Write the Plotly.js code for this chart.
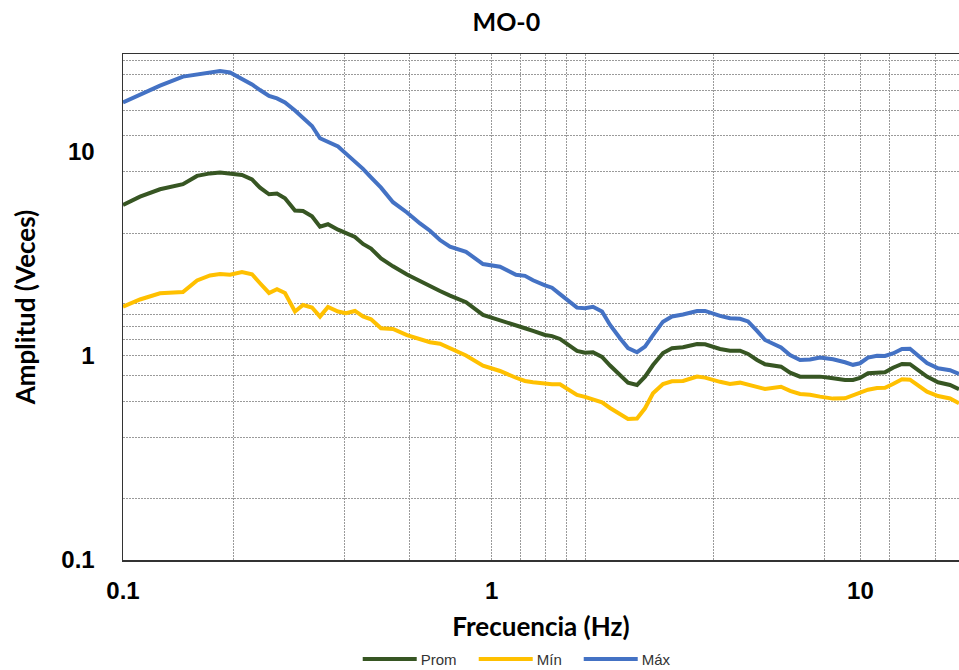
<!DOCTYPE html>
<html>
<head>
<meta charset="utf-8">
<script src="https://cdn.plot.ly/plotly-3.0.1.min.js"></script>
<style>
html,body{margin:0;padding:0;background:#fff;}
#chart{width:959px;height:670px;}
#chart .legend .legendlines path{d:path("M-18,0h54");}
#chart .legend, #chart .legend g, #chart .legend .scrollbox{clip-path:none !important;}
</style>
</head>
<body>
<div id="chart"></div>
<script>
// Frecuencia (Hz)
const freq = [0.1, 0.1112, 0.1260, 0.1454, 0.1588, 0.1722, 0.1833, 0.1951, 0.2102, 0.2238,
  0.2353, 0.2489, 0.2616, 0.2750, 0.2927, 0.3078, 0.3255, 0.3422, 0.3597, 0.3830,
  0.4025, 0.4257, 0.4476, 0.4706, 0.5009, 0.5399, 0.5891, 0.6391, 0.6801, 0.7239,
  0.7707, 0.8518, 0.9471, 1.0532, 1.1638, 1.2311, 1.2942, 1.3950, 1.4571, 1.5318,
  1.7034, 1.7906, 1.8823, 1.9914, 2.0941, 2.2284, 2.3425, 2.4780, 2.6050, 2.7384,
  2.9148, 3.0832, 3.3025, 3.6058, 3.7903, 4.1615, 4.4290, 4.7153, 4.9569, 5.2434,
  5.5124, 6.0911, 6.4437, 6.8597, 7.3004, 7.7696, 8.4272, 9.0827, 9.5480, 9.975,
  10.486, 11.092, 11.660, 12.257, 12.965, 13.628, 14.328, 15.155, 16.236, 17.500, 18.51];

const prom = [5.50, 6.04, 6.56, 6.95, 7.63, 7.85, 7.93, 7.86, 7.71, 7.33,
  6.68, 6.20, 6.25, 5.93, 5.16, 5.14, 4.84, 4.30, 4.42, 4.16,
  4.00, 3.83, 3.54, 3.36, 3.01, 2.75, 2.51, 2.32, 2.19, 2.08,
  1.975, 1.834, 1.589, 1.501, 1.406, 1.367, 1.326, 1.268, 1.251, 1.212,
  1.058, 1.038, 1.043, 0.989, 0.898, 0.807, 0.740, 0.721, 0.792, 0.903,
  1.034, 1.091, 1.103, 1.145, 1.141, 1.082, 1.062, 1.062, 1.023, 0.956,
  0.911, 0.886, 0.828, 0.792, 0.792, 0.792, 0.777, 0.763, 0.763, 0.780,
  0.823, 0.832, 0.832, 0.876, 0.914, 0.911, 0.854, 0.792, 0.743, 0.721, 0.687];

const minv = [1.744, 1.892, 2.029, 2.060, 2.345, 2.481, 2.523, 2.500, 2.581, 2.515,
  2.272, 2.036, 2.123, 2.036, 1.652, 1.778, 1.729, 1.559, 1.739, 1.652,
  1.621, 1.662, 1.561, 1.513, 1.367, 1.356, 1.266, 1.212, 1.167, 1.149,
  1.092, 1.006, 0.896, 0.844, 0.782, 0.754, 0.744, 0.731, 0.727, 0.727,
  0.644, 0.630, 0.615, 0.593, 0.556, 0.517, 0.491, 0.494, 0.554, 0.656,
  0.729, 0.751, 0.754, 0.792, 0.783, 0.747, 0.729, 0.740, 0.725, 0.705,
  0.689, 0.707, 0.674, 0.651, 0.646, 0.632, 0.618, 0.620, 0.639, 0.656,
  0.683, 0.697, 0.699, 0.729, 0.769, 0.765, 0.721, 0.668, 0.636, 0.619, 0.586];

const maxv = [17.48, 19.11, 21.14, 23.39, 23.99, 24.67, 24.95, 24.53, 22.93, 21.42,
  20.11, 18.81, 18.29, 17.48, 15.95, 14.68, 13.41, 11.67, 11.26, 10.64,
  9.81, 8.96, 8.26, 7.50, 6.68, 5.67, 5.05, 4.46, 4.11, 3.70,
  3.43, 3.24, 2.82, 2.74, 2.50, 2.47, 2.35, 2.22, 2.16, 2.01,
  1.725, 1.713, 1.743, 1.652, 1.419, 1.221, 1.094, 1.043, 1.111, 1.265,
  1.473, 1.562, 1.597, 1.662, 1.662, 1.571, 1.530, 1.522, 1.476, 1.326,
  1.198, 1.101, 1.011, 0.956, 0.961, 0.983, 0.963, 0.931, 0.905, 0.921,
  0.981, 1.003, 1.000, 1.029, 1.082, 1.086, 1.011, 0.924, 0.870, 0.852, 0.816];

const xTickVals = [0.1, 1, 10];
const xTickText = ['0.1', '1', '10'];
const yTickVals = [0.1, 1, 10];
const yTickText = ['0.1', '1', '10'];
const xGrid = [0.2, 0.4, 0.6, 0.8, 1, 1.2, 1.4, 1.6, 1.8, 4, 8, 10, 12, 16];
const yGrid = [0.2, 0.4, 0.6, 0.8, 1, 1.2, 1.4, 1.6, 1.8, 4, 8, 12, 16, 20, 24, 28];
const xRange = [0.1, 18.51];
const yRange = [0.1, 30.2];

const series = [
  {name: 'Prom', y: prom, color: '#375623', legendwidth: 71},
  {name: 'Mín', y: minv, color: '#FFC000', legendwidth: 60},
  {name: 'Máx', y: maxv, color: '#4472C4', legendwidth: 40}
];

const traces = series.map(s => ({
  x: freq, y: s.y, name: s.name, type: 'scatter', mode: 'lines',
  line: {color: s.color, width: 4, shape: 'linear'},
  legendwidth: s.legendwidth,
  hoverinfo: 'x+y+name'
}));

const gridStyle = {showgrid: true, gridcolor: '#9a9a9a', gridwidth: 1, griddash: '2px,1px', ticks: ''};
const titleFont = {family: 'Lato, Open Sans, sans-serif', size: 26, color: '#000', weight: 'bold'};
const tickFont = {family: 'Liberation Sans, Arial, sans-serif', size: 24, color: '#000', weight: 'bold'};

const layout = {
  width: 959, height: 670,
  margin: {l: 123, r: 0, t: 54, b: 110, pad: 0},
  paper_bgcolor: '#ffffff', plot_bgcolor: '#ffffff',
  title: {text: 'MO-0', font: {family: 'Lato, Open Sans, sans-serif', size: 25, color: '#000', weight: 'bold'},
    xref: 'container', x: 0.528, xanchor: 'center', yref: 'container', y: 0.967, yanchor: 'middle'},
  xaxis: {
    type: 'log', range: xRange.map(Math.log10),
    tickmode: 'array', tickvals: xTickVals, ticktext: xTickText,
    tickfont: tickFont, ticks: '', ticklabelstandoff: 9,
    showgrid: false, zeroline: false,
    showline: true, linecolor: '#333', linewidth: 1.5, mirror: true,
    minor: Object.assign({tickmode: 'array', tickvals: xGrid}, gridStyle),
    title: {text: 'Frecuencia (Hz)', standoff: 14, font: titleFont}
  },
  yaxis: {
    type: 'log', range: yRange.map(Math.log10),
    tickmode: 'array', tickvals: yTickVals, ticktext: yTickText,
    tickfont: tickFont, ticks: '', ticklabelstandoff: 22,
    showgrid: false, zeroline: false,
    showline: true, linecolor: '#333', linewidth: 1.5, mirror: false,
    minor: Object.assign({tickmode: 'array', tickvals: yGrid}, gridStyle),
    title: {text: 'Amplitud (Veces)', standoff: 18, font: titleFont}
  },
  showlegend: true,
  legend: {orientation: 'h', xref: 'container', yref: 'container', x: 0.397, xanchor: 'left', y: 0.016, yanchor: 'middle',
    font: {family: 'Liberation Sans, Arial, sans-serif', size: 15, color: '#333'},
    bgcolor: 'rgba(0,0,0,0)', itemwidth: 30, entrywidthmode: 'pixels', tracegroupgap: 0}
};

function stretchLegendLines(gd) {
  gd.querySelectorAll('.legend .legendlines path').forEach(p => p.setAttribute('d', 'M-18,0h54'));
  gd.querySelectorAll('.legend [clip-path]').forEach(el => el.removeAttribute('clip-path'));
}
const gdEl = document.getElementById('chart');
Plotly.newPlot(gdEl, traces, layout, {displayModeBar: false, staticPlot: true}).then(gd => {
  stretchLegendLines(gd);
  gd.on('plotly_afterplot', () => stretchLegendLines(gd));
  setTimeout(() => stretchLegendLines(gd), 50);
});
</script>
</body>
</html>
